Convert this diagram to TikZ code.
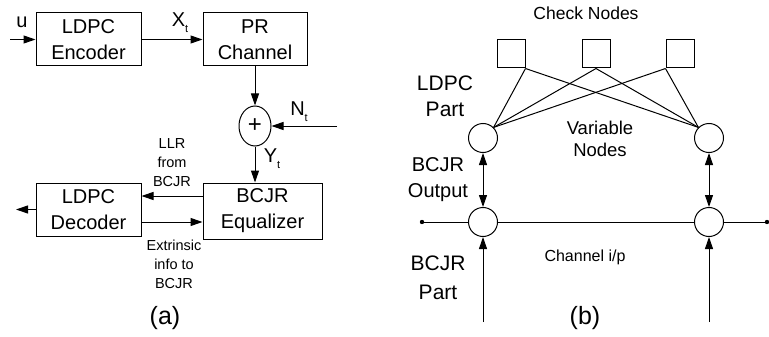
\documentclass[tikz,border=0pt]{standalone}
\usepackage{fontspec}
\setmainfont{Liberation Sans}
\usetikzlibrary{shapes,arrows.meta,positioning}
\newcommand{\lowsub}[1]{\raisebox{-6pt}{\fontsize{11}{11}\selectfont #1}}

\begin{document}
\begin{tikzpicture}[
    x=1pt, y=-1pt,
    block/.style={rectangle, draw, line width=1pt, minimum width=105pt, minimum height=53pt, inner sep=0pt, align=center, font=\fontsize{20}{26}\selectfont},
    varnode/.style={circle, draw, line width=1pt, minimum size=29pt, inner sep=0pt},
    checknode/.style={rectangle, draw, line width=1pt, minimum size=28pt, inner sep=0pt},
    arrow/.style={-{Triangle[length=12pt, width=8pt]}, line width=1pt},
    dblarrow/.style={{Triangle[length=12pt, width=8pt]}-{Triangle[length=12pt, width=8pt]}, line width=1pt},
    wire/.style={line width=1pt},
    biglabel/.style={font=\fontsize{20}{26}\selectfont, align=center},
    smalllabel/.style={font=\fontsize{14.5}{19}\selectfont, align=center},
    midlabel/.style={font=\fontsize{17.5}{22}\selectfont, align=center}
]
\useasboundingbox (0,0) rectangle (769,337);

% (a) Transmitter and receiver chain
\node[block] (enc) at (88.5, 39.5) {LDPC\\Encoder};
\node[block, minimum width=104pt] (chan) at (255, 39.5) {PR\\Channel};
\node[ellipse, draw, line width=1pt, minimum width=32pt, minimum height=40pt, inner sep=0pt, font=\fontsize{24}{24}\selectfont] (sum) at (255, 126) {+};
\node[block, minimum width=119pt, minimum height=56pt] (bcjr) at (262.5, 211) {BCJR\\Equalizer};
\node[block] (dec) at (88.5, 209.5) {LDPC\\Decoder};

\coordinate (uin) at (10, 39.5);
\coordinate (nin) at (337, 126);
\coordinate (decout) at (16, 209.5);

% Arrows
\draw[arrow] (uin) -- (enc);
\draw[arrow] (enc) -- (chan);
\draw[arrow] (chan) -- (sum);
\draw[arrow] (nin) -- (sum);
\draw[arrow] (sum.south) -- (sum.south |- bcjr.north);
\draw[arrow] ([yshift=15pt]bcjr.west) -- ([yshift=15pt]bcjr.west -| dec.east);
\draw[arrow] ([yshift=-11pt]bcjr.west -| dec.east) -- ([yshift=-11pt]bcjr.west);
\draw[arrow] (dec) -- (decout);

% Labels
\node[biglabel] (ulabel) at (22, 22) {u};
\node[biglabel] (xlabel) at (180, 23) {X\lowsub{t}};
\node[biglabel] (nlabel) at (299, 112) {N\lowsub{t}};
\node[biglabel] (ylabel) at (272, 159) {Y\lowsub{t}};
\node[smalllabel] (llr) at (172, 163) {LLR\\from\\BCJR};
\node[smalllabel] (extr) at (174, 264) {Extrinsic\\info to\\BCJR};
\node[font=\fontsize{25}{25}\selectfont] (capa) at (165, 318) {(a)};

% (b) Joint factor graph
\node[checknode] (c1) at (511, 54) {};
\node[checknode] (c2) at (596, 54) {};
\node[checknode] (c3) at (680, 54) {};
\node[varnode] (v1) at (483, 138) {};
\node[varnode] (v2) at (709, 138) {};
\node[varnode] (b1) at (483, 222) {};
\node[varnode] (b2) at (709, 222) {};

\coordinate (left) at (422, 222);
\coordinate (right) at (767, 222);
\coordinate (ch1) at (483, 322);
\coordinate (ch2) at (709, 322);

% Edges
\draw[wire] (c1.south east) -- (v1.north east);
\draw[wire] (c1.south east) -- (v2.north west);
\draw[wire] (c2.south) -- (v1.north east);
\draw[wire] (c2.south) -- (v2.north west);
\draw[wire] (c3.south west) -- (v1.north east);
\draw[wire] (c3.south west) -- (v2.north west);
\draw[dblarrow] (v1) -- (b1);
\draw[dblarrow] (v2) -- (b2);
\draw[wire] (left) -- (b1) -- (b2) -- (right);
\fill (left) circle (2.2pt);
\fill (right) circle (2.2pt);
\draw[arrow] (ch1) -- (b1);
\draw[arrow] (ch2) -- (b2);

% Labels
\node[midlabel] (checklbl) at (586, 13) {Check Nodes};
\node[biglabel, font=\fontsize{21}{26}\selectfont] (ldpcpart) at (445, 96) {LDPC\\Part};
\node[midlabel, font=\fontsize{18.5}{22}\selectfont] (varlbl) at (600, 139) {Variable\\Nodes};
\node[biglabel] (bcjrout) at (438, 180) {BCJR\\Output};
\node[biglabel, font=\fontsize{21}{29}\selectfont] (bcjrpart) at (438, 278) {BCJR\\Part};
\node[font=\fontsize{16}{16}\selectfont] (chlbl) at (585, 257) {Channel i/p};
\node[font=\fontsize{25}{25}\selectfont] (capb) at (585, 318) {(b)};
\end{tikzpicture}
\end{document}
